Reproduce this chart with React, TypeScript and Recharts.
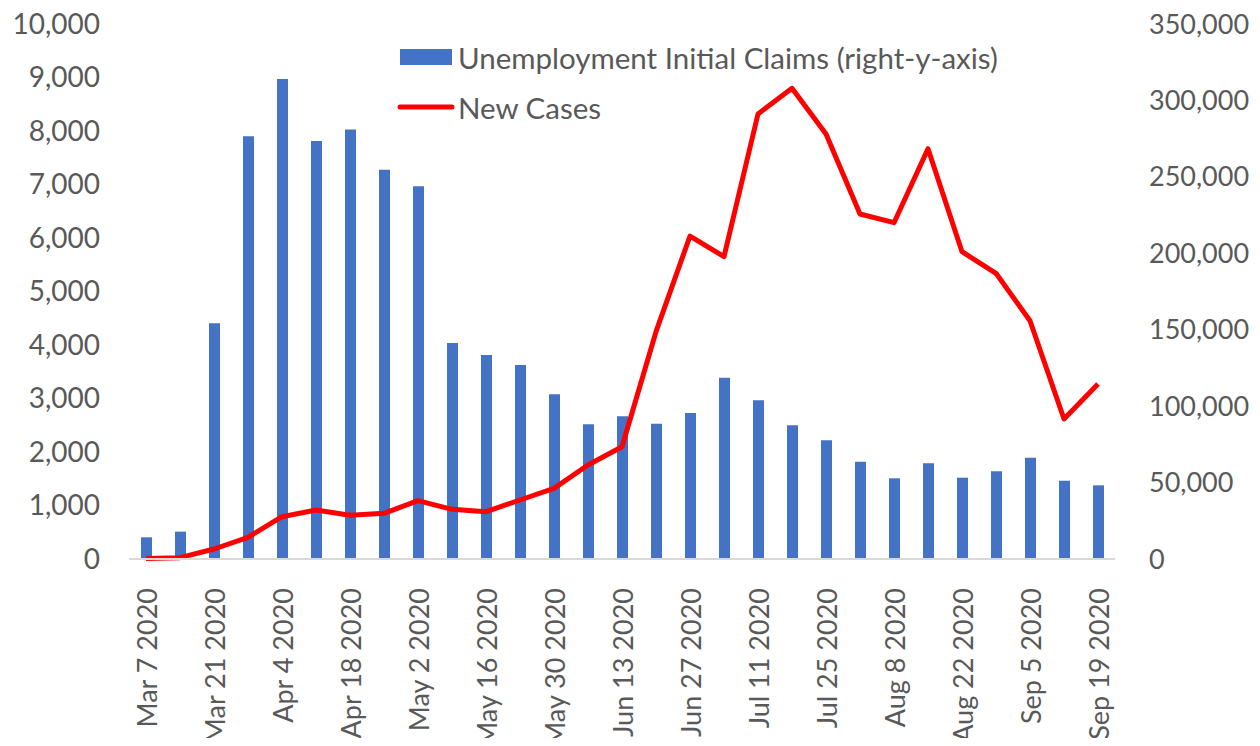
import { ComposedChart, Bar, Line, XAxis, YAxis } from 'recharts';

const weeks = [
  'Mar 7 2020', 'Mar 14 2020', 'Mar 21 2020', 'Mar 28 2020', 'Apr 4 2020', 'Apr 11 2020',
  'Apr 18 2020', 'Apr 25 2020', 'May 2 2020', 'May 9 2020', 'May 16 2020', 'May 23 2020',
  'May 30 2020', 'Jun 6 2020', 'Jun 13 2020', 'Jun 20 2020', 'Jun 27 2020', 'Jul 4 2020',
  'Jul 11 2020', 'Jul 18 2020', 'Jul 25 2020', 'Aug 1 2020', 'Aug 8 2020', 'Aug 15 2020',
  'Aug 22 2020', 'Aug 29 2020', 'Sep 5 2020', 'Sep 12 2020', 'Sep 19 2020',
];

// right axis
const initialClaims = [
  14200, 17900, 154200, 276500, 314000, 273500, 280900, 254700, 243800, 141300,
  133500, 126900, 107700, 88100, 93400, 88500, 95500, 118600, 103800, 87500,
  77700, 63700, 52800, 62600, 53200, 57400, 66300, 51200, 48200,
];

// left axis
const newCases = [
  10, 25, 187, 405, 791, 916, 816, 854, 1090, 928,
  884, 1103, 1321, 1757, 2099, 4249, 6037, 5651, 8318, 8798,
  7944, 6449, 6286, 7669, 5744, 5340, 4454, 2617, 3271,
];

const leftTicks = [0, 1000, 2000, 3000, 4000, 5000, 6000, 7000, 8000, 9000, 10000];
const rightTicks = [0, 50000, 100000, 150000, 200000, 250000, 300000, 350000];

const data = weeks.map((week, i) => ({
  week,
  claims: initialClaims[i],
  cases: newCases[i],
}));

const FONT = 'Lato, "Noto Sans", sans-serif';
const TEXT = '#595959';
const fmt = (v: number) => v.toLocaleString('en-US');

const WeekTick = ({ x, y, payload }: any) => (
  <text
    x={0}
    y={0}
    transform={`translate(${x},${y + 21}) rotate(-90)`}
    textAnchor="end"
    dominantBaseline="central"
    fill={TEXT}
    fontSize={27}
    fontFamily={FONT}
  >
    {payload.value}
  </text>
);

const App = () => {
  return (
    <div style={{ position: 'relative', width: 1260, height: 746, margin: -8, overflow: 'hidden', background: '#fff' }}>
      <div
        style={{
          position: 'absolute', left: 0, width: 1260, top: -21, textAlign: 'center',
          fontFamily: FONT, fontWeight: 700, fontSize: 28, lineHeight: '28px', color: TEXT,
        }}
      >
        and COVID-19 New Cases
      </div>

      <ComposedChart width={1260} height={746} data={data} margin={{ top: 24, right: 0, left: 0, bottom: 0 }}>
        <XAxis
          dataKey="week"
          interval={1}
          height={187}
          tickLine={false}
          axisLine={{ stroke: '#d9d9d9', strokeWidth: 2 }}
          tick={<WeekTick />}
        />
        <YAxis
          yAxisId="left"
          orientation="left"
          width={129}
          domain={[0, 10000]}
          ticks={leftTicks}
          tickFormatter={fmt}
          axisLine={false}
          tickLine={false}
          tickSize={0}
          tickMargin={29}
          tick={{ fill: TEXT, fontSize: 28, fontFamily: FONT }}
        />
        <YAxis
          yAxisId="right"
          orientation="right"
          width={145}
          domain={[0, 350000]}
          ticks={rightTicks}
          tickFormatter={fmt}
          axisLine={false}
          tickLine={false}
          tickSize={0}
          tickMargin={34}
          tick={{ fill: TEXT, fontSize: 27, fontFamily: FONT, textAnchor: 'start' }}
        />
        <Bar yAxisId="right" dataKey="claims" fill="#4472C4" barSize={11} isAnimationActive={false} />
        <Line
          yAxisId="left"
          type="linear"
          dataKey="cases"
          stroke="#FF0000"
          strokeWidth={5}
          strokeLinejoin="round"
          dot={false}
          activeDot={false}
          isAnimationActive={false}
        />
      </ComposedChart>

      <div style={{ position: 'absolute', left: 395, top: 38, fontFamily: FONT, fontSize: 29.5, color: TEXT }}>
        <div style={{ display: 'flex', alignItems: 'center', height: 38 }}>
          <svg width={63} height={20}>
            <rect x={5} y={2} width={52} height={16} fill="#4472C4" />
          </svg>
          <span>Unemployment Initial Claims (right-y-axis)</span>
        </div>
        <div style={{ display: 'flex', alignItems: 'center', height: 38, marginTop: 12 }}>
          <svg width={63} height={20}>
            <line x1={5} y1={10} x2={57} y2={10} stroke="#FF0000" strokeWidth={5} strokeLinecap="round" />
          </svg>
          <span>New Cases</span>
        </div>
      </div>
    </div>
  );
};

export default App;
